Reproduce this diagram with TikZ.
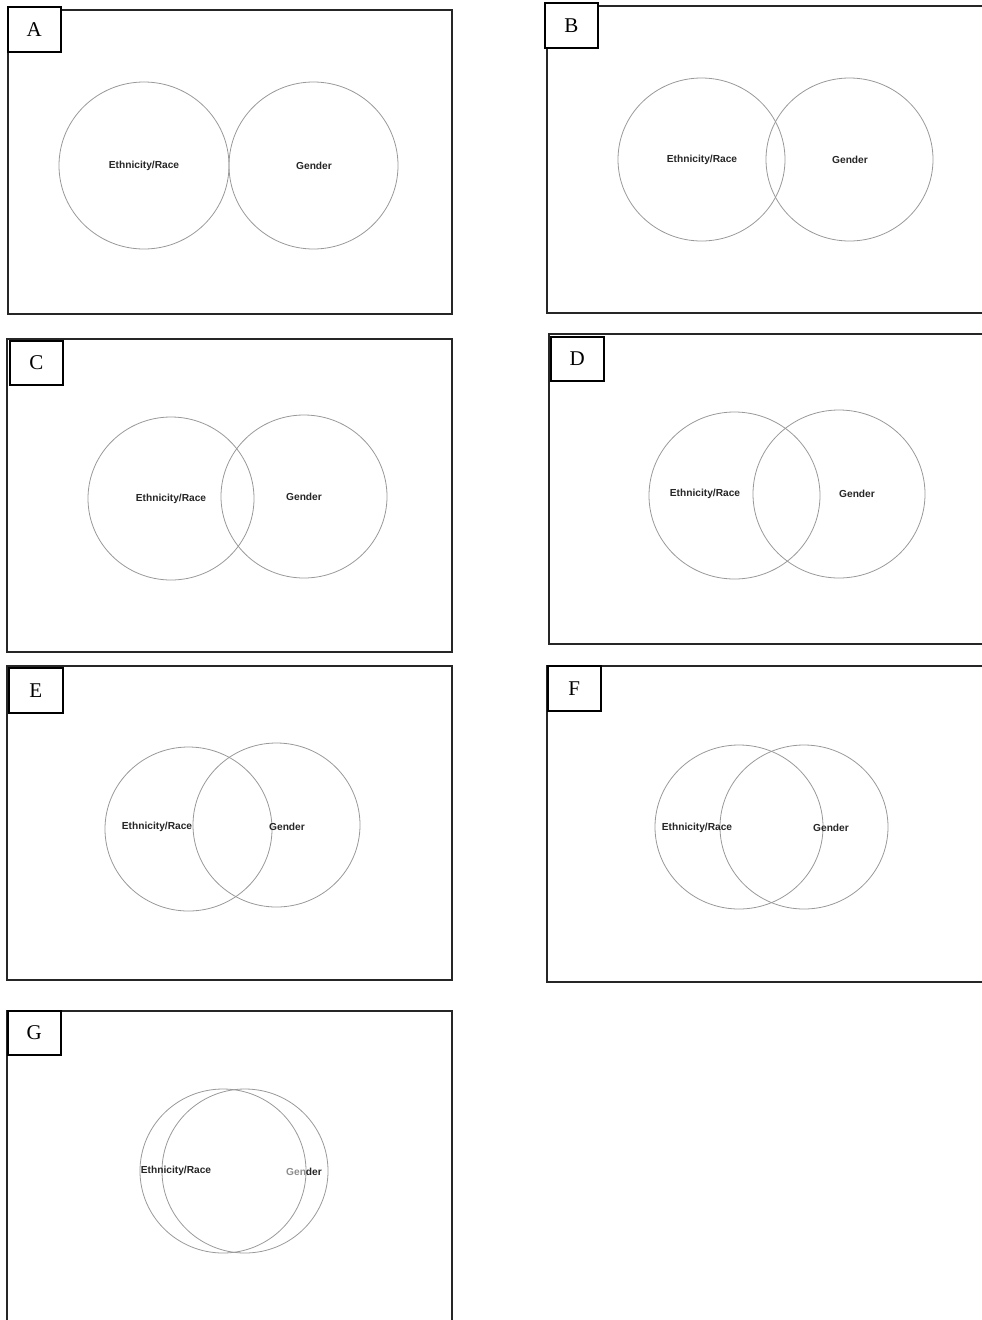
\documentclass[tikz,border=0pt]{standalone}
\usepackage{fontspec}
\setmainfont{Liberation Serif}
\newfontfamily\vennfont{Liberation Sans}
\usetikzlibrary{shapes.geometric}
\tikzset{
  panelframe/.style={draw=black!85, line width=2pt},
  tagbox/.style={draw=black, line width=1.6pt, fill=white, inner sep=0pt, anchor=north west,
    minimum width=53pt, minimum height=45pt, font=\fontsize{21}{21}\selectfont},
  venn/.style={ellipse, draw=black!40, line width=0.8pt, inner sep=0pt},
  vtext/.style={font=\vennfont\bfseries\fontsize{10.2}{11}\selectfont, text=black!85, inner sep=0pt}
}
\begin{document}
\begin{tikzpicture}[x=1pt,y=-1pt]
\useasboundingbox (0,0) rectangle (982,1320);
% Panel A
\draw[panelframe] (7.5,9.5) rectangle (452,314);
\node[tagbox] (tA) at (7,6) {A};
\node[venn, minimum width=170pt, minimum height=167pt] (A1) at (144,165.5) {};
\node[venn, minimum width=169pt, minimum height=167pt] (A2) at (313.5,165.5) {};
\node[vtext] (A1t) at (144,166) {Ethnicity/Race};
\node[vtext] (A2t) at (314,166) {Gender};
% Panel B
\draw[panelframe] (984,6) -- (547,6) -- (547,313) -- (984,313);
\node[tagbox] (tB) at (544,2) {B};
\node[venn, minimum width=167pt, minimum height=163pt] (B1) at (701.5,159.5) {};
\node[venn, minimum width=167pt, minimum height=163pt] (B2) at (849.5,159.5) {};
\node[vtext] (B1t) at (702,160) {Ethnicity/Race};
\node[vtext] (B2t) at (850,160) {Gender};
% Panel C
\draw[panelframe] (7,339) rectangle (452,652);
\node[tagbox, minimum height=44pt] (tC) at (9,340) {C};
\node[venn, minimum width=166pt, minimum height=163pt] (C1) at (171,498.5) {};
\node[venn, minimum width=166pt, minimum height=163pt] (C2) at (304,496.5) {};
\node[vtext] (C1t) at (171,499) {Ethnicity/Race};
\node[vtext] (C2t) at (304,497) {Gender};
% Panel D
\draw[panelframe] (984,334) -- (549,334) -- (549,644) -- (984,644);
\node[tagbox, minimum height=44pt] (tD) at (550,336) {D};
\node[venn, minimum width=171pt, minimum height=167pt] (D1) at (734.5,495.5) {};
\node[venn, minimum width=172pt, minimum height=168pt] (D2) at (839,494) {};
\node[vtext] (D1t) at (705,494) {Ethnicity/Race};
\node[vtext] (D2t) at (857,494) {Gender};
% Panel E
\draw[panelframe] (7,666) rectangle (452,980);
\node[tagbox, minimum width=54pt] (tE) at (8,667) {E};
\node[venn, minimum width=167pt, minimum height=164pt] (E1) at (188.5,829) {};
\node[venn, minimum width=167pt, minimum height=164pt] (E2) at (276.5,825) {};
\node[vtext] (E1t) at (157,827) {Ethnicity/Race};
\node[vtext] (E2t) at (287,827) {Gender};
% Panel F
\draw[panelframe] (984,666) -- (547,666) -- (547,982) -- (984,982);
\node[tagbox] (tF) at (547,665) {F};
\node[venn, minimum width=168pt, minimum height=164pt] (F1) at (739,827) {};
\node[venn, minimum width=168pt, minimum height=164pt] (F2) at (804,827) {};
\node[vtext] (F1t) at (697,828) {Ethnicity/Race};
\node[vtext] (F2t) at (831,828) {Gender};
% Panel G
\draw[panelframe] (7,1322) -- (7,1011) -- (452,1011) -- (452,1322);
\node[tagbox, minimum height=44pt] (tG) at (7,1010) {G};
\node[venn, minimum width=166pt, minimum height=164pt] (G1) at (223,1171) {};
\node[venn, minimum width=166pt, minimum height=164pt] (G2) at (245,1171) {};
\node[vtext] (G1t) at (176,1171) {Ethnicity/Race};
\node[vtext] (G2t) at (304,1172) {{\color{black!45}Gen}der};
\end{tikzpicture}
\end{document}
